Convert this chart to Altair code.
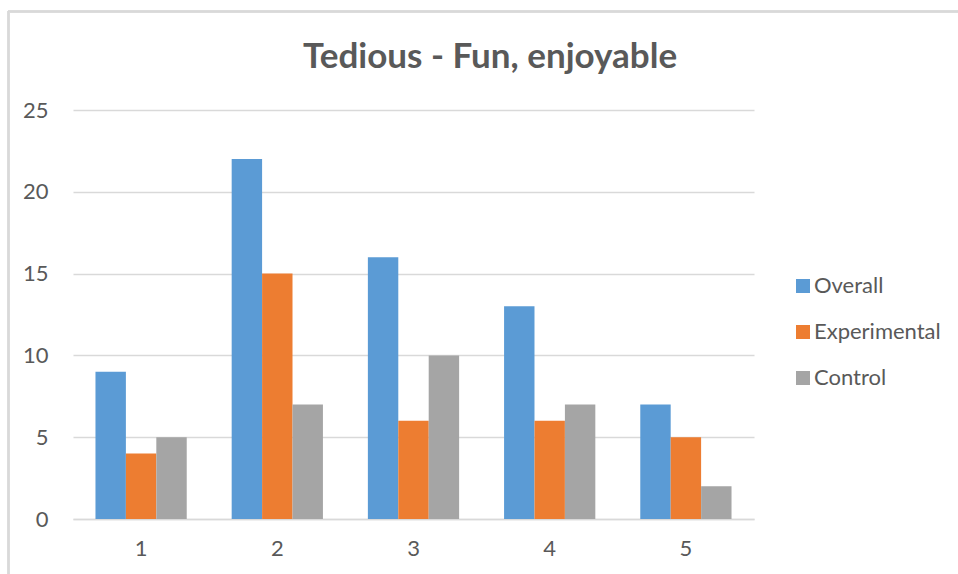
import altair as alt
import pandas as pd

# Ratings on the 1-5 scale and counts per group
ratings = ["1", "2", "3", "4", "5"]
groups = ["Overall", "Experimental", "Control"]
overall = [9, 22, 16, 13, 7]
experimental = [4, 15, 6, 6, 5]
control = [5, 7, 10, 7, 2]
colors = ["#5B9BD5", "#ED7D31", "#A5A5A5"]
chart_title = "Tedious - Fun, enjoyable"

rows = []
for g, vals in zip(groups, [overall, experimental, control]):
    for r, v in zip(ratings, vals):
        rows.append({"rating": r, "group": g, "count": v})
df = pd.DataFrame(rows)

FONT = "Lato"
TXT = "#595959"
GRID = "#D9D9D9"
LBL = 22

bars = alt.Chart(df).mark_bar().encode(
    x=alt.X(
        "rating:N",
        sort=ratings,
        title=None,
        scale=alt.Scale(paddingInner=0.33, paddingOuter=0.165),
        axis=alt.Axis(
            labelAngle=0,
            labelFont=FONT,
            labelFontSize=LBL,
            labelColor=TXT,
            labelPadding=19,
            ticks=False,
            grid=False,
            domainColor=GRID,
            domainWidth=1.5,
        ),
    ),
    xOffset=alt.XOffset("group:N", sort=groups),
    y=alt.Y(
        "count:Q",
        title=None,
        scale=alt.Scale(domain=[0, 25]),
        axis=alt.Axis(
            values=[0, 5, 10, 15, 20, 25],
            labelFont=FONT,
            labelFontSize=LBL,
            labelColor=TXT,
            labelPadding=25,
            ticks=False,
            domain=False,
            gridColor=GRID,
            gridWidth=1.5,
        ),
    ),
    color=alt.Color(
        "group:N",
        sort=groups,
        scale=alt.Scale(domain=groups, range=colors),
        legend=alt.Legend(
            title=None,
            orient="none",
            legendX=719,
            legendY=165,
            symbolType="square",
            symbolSize=196,
            symbolStrokeWidth=0,
            labelFont=FONT,
            labelFontSize=LBL,
            labelColor=TXT,
            labelOffset=0,
            rowPadding=24,
        ),
    ),
)

# Chart heading, centred over the whole frame
heading = alt.Chart(pd.DataFrame({"t": [chart_title]})).mark_text(
    font=FONT,
    fontSize=35,
    fontWeight="bold",
    color=TXT,
    align="center",
    baseline="alphabetic",
).encode(text="t:N", x=alt.value(417), y=alt.value(-42))

# Chart frame lines (top and left edges)
frame_top = alt.Chart(df).mark_rule(color=GRID, strokeWidth=1.5).encode(
    x=alt.value(-65), x2=alt.value(900), y=alt.value(-98.5)
)
frame_left = alt.Chart(df).mark_rule(color=GRID, strokeWidth=1.5).encode(
    x=alt.value(-64.5), y=alt.value(-99), y2=alt.value(470)
)

chart = (
    alt.layer(frame_top, frame_left, heading, bars)
    .properties(
        width=681,
        height=409,
        padding={"left": 73, "top": 110, "right": 204, "bottom": 55},
        autosize=alt.AutoSizeParams(type="none"),
    )
    .configure(background="white")
    .configure_view(stroke="transparent", strokeWidth=0)
)

chart.save("out.html", embed_options={"renderer": "svg", "actions": False})
